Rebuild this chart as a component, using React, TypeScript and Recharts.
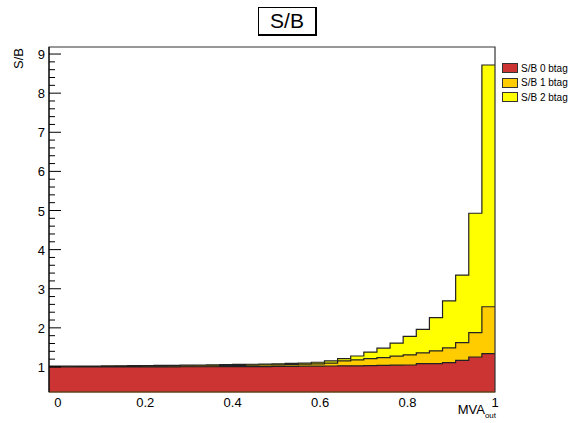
import { Area, ComposedChart, ReferenceArea, XAxis, YAxis } from "recharts";

// histogram low edges (34 bins of 0.03 from -0.02 to 1.0), last entry closes the final bin
const binEdges = [
  -0.02, 0.01, 0.04, 0.07, 0.1, 0.13, 0.16, 0.19, 0.22, 0.25, 0.28, 0.31,
  0.34, 0.37, 0.4, 0.43, 0.46, 0.49, 0.52, 0.55, 0.58, 0.61, 0.64, 0.67,
  0.7, 0.73, 0.76, 0.79, 0.82, 0.85, 0.88, 0.91, 0.94, 0.97, 1.0,
];

const sb0btag = [
  1.0, 1.0, 1.0, 1.0, 1.0, 1.0, 1.0, 1.0, 1.0, 1.0, 1.005, 1.005, 1.005, 1.01,
  1.01, 1.01, 1.01, 1.015, 1.015, 1.02, 1.02, 1.025, 1.03, 1.03, 1.035, 1.04,
  1.045, 1.05, 1.085, 1.085, 1.11, 1.17, 1.255, 1.34,
];

const sb1btag = [
  1.005, 1.005, 1.01, 1.01, 1.01, 1.015, 1.015, 1.02, 1.02, 1.025, 1.025, 1.03,
  1.03, 1.035, 1.04, 1.045, 1.05, 1.055, 1.06, 1.07, 1.08, 1.1, 1.155, 1.18,
  1.215, 1.24, 1.275, 1.31, 1.36, 1.41, 1.49, 1.62, 1.88, 2.54,
];

const sb2btag = [
  1.02, 1.02, 1.025, 1.025, 1.03, 1.03, 1.035, 1.035, 1.04, 1.04, 1.045, 1.05,
  1.055, 1.06, 1.065, 1.07, 1.075, 1.08, 1.09, 1.1, 1.12, 1.155, 1.215, 1.28,
  1.38, 1.48, 1.61, 1.78, 1.96, 2.26, 2.69, 3.35, 4.93, 8.72,
];

const xTicks = [0, 0.2, 0.4, 0.6, 0.8, 1];
const yLabels = [1, 2, 3, 4, 5, 6, 7, 8, 9];
// minor ticks every 0.2 between the labelled ones
const yTicks = yLabels.flatMap((v, i) =>
  i === yLabels.length - 1 ? [v] : [v, v + 0.2, v + 0.4, v + 0.6, v + 0.8]
);

const legendItems = [
  { label: "S/B 0 btag", color: "#cc3333" },
  { label: "S/B 1 btag", color: "#ffcc00" },
  { label: "S/B 2 btag", color: "#ffff00" },
];

const X_MIN = -0.02;
const X_MAX = 1.0;
const Y_MIN = 0.36;
const Y_MAX = 9.18;

const FONT = '"Liberation Sans", Arial, Helvetica, sans-serif';

// stepAfter needs a closing point at the upper edge of the last bin
const data = binEdges.map((x, i) => {
  const j = Math.min(i, sb0btag.length - 1);
  return { x, b0: sb0btag[j], b1: sb1btag[j], b2: sb2btag[j] };
});

function YTick({ x, y, payload }: any) {
  const v = Number(payload.value);
  const major = Math.abs(v - Math.round(v)) < 1e-6;
  return (
    <g>
      <line x1={x} x2={x + (major ? 12 : 6)} y1={y} y2={y} stroke="#000" />
      {major && (
        <text x={x - 4} y={y + 5} textAnchor="end" fontSize={13} fontFamily={FONT} fill="#000">
          {Math.round(v)}
        </text>
      )}
    </g>
  );
}

function XTick({ x, y, payload }: any) {
  return (
    <text x={x} y={y + 15} textAnchor="middle" fontSize={13} fontFamily={FONT} fill="#000">
      {payload.value}
    </text>
  );
}

export default function App() {
  return (
    <div
      style={{
        position: "absolute",
        left: 0,
        top: 0,
        width: 578,
        height: 423,
        background: "#fff",
        fontFamily: FONT,
      }}
    >
      <ComposedChart
        width={578}
        height={423}
        data={data}
        margin={{ top: 47, right: 83, left: 0, bottom: 0 }}
      >
        <XAxis
          dataKey="x"
          type="number"
          domain={[X_MIN, X_MAX]}
          ticks={xTicks}
          height={31}
          tickSize={0}
          tickMargin={0}
          tick={<XTick />}
          axisLine={{ stroke: "#7a4a10" }}
          interval={0}
        />
        <YAxis
          type="number"
          domain={[Y_MIN, Y_MAX]}
          ticks={yTicks}
          width={49}
          tickSize={0}
          tickMargin={0}
          tick={<YTick />}
          axisLine={{ stroke: "#000" }}
          interval={0}
          allowDataOverflow
        />
        <Area
          type="stepAfter"
          dataKey="b2"
          fill="#ffff00"
          fillOpacity={1}
          stroke="#222"
          strokeWidth={1.2}
          isAnimationActive={false}
        />
        <Area
          type="stepAfter"
          dataKey="b1"
          fill="#ffcc00"
          fillOpacity={1}
          stroke="#222"
          strokeWidth={1.2}
          isAnimationActive={false}
        />
        <Area
          type="stepAfter"
          dataKey="b0"
          fill="#cc3333"
          fillOpacity={1}
          stroke="#222"
          strokeWidth={1.2}
          isAnimationActive={false}
        />
        <ReferenceArea
          x1={X_MIN}
          x2={X_MAX}
          y1={Y_MIN}
          y2={Y_MAX}
          fill="none"
          stroke="#333"
          strokeWidth={1.2}
        />
      </ComposedChart>

      {/* title pave */}
      <div
        style={{
          position: "absolute",
          left: 258,
          top: 7,
          width: 56,
          height: 26,
          borderTop: "1px solid #000",
          borderLeft: "1px solid #000",
          borderRight: "2px solid #000",
          borderBottom: "2px solid #000",
          background: "#fff",
          fontSize: 21,
          lineHeight: "26px",
          textAlign: "center",
        }}
      >
        S/B
      </div>

      {/* y axis title */}
      <div
        style={{
          position: "absolute",
          left: 19,
          top: 48,
          fontSize: 13,
          transformOrigin: "0 0",
          transform: "rotate(-90deg) translate(-100%, -50%)",
          whiteSpace: "nowrap",
          lineHeight: "14px",
        }}
      >
        S/B
      </div>

      {/* x axis title */}
      <div
        style={{
          position: "absolute",
          right: 578 - 496,
          top: 403,
          fontSize: 13,
          whiteSpace: "nowrap",
          lineHeight: "14px",
        }}
      >
        MVA<sub style={{ fontSize: 8, verticalAlign: "-4px" }}>out</sub>
      </div>

      {/* legend */}
      <div style={{ position: "absolute", left: 502, top: 61 }}>
        {legendItems.map((it) => (
          <div
            key={it.label}
            style={{ display: "flex", alignItems: "center", height: 14.5, fontSize: 10 }}
          >
            <span
              style={{
                display: "inline-block",
                width: 14,
                height: 8,
                background: it.color,
                border: "1px solid #333",
                marginRight: 3,
              }}
            />
            {it.label}
          </div>
        ))}
      </div>
    </div>
  );
}
